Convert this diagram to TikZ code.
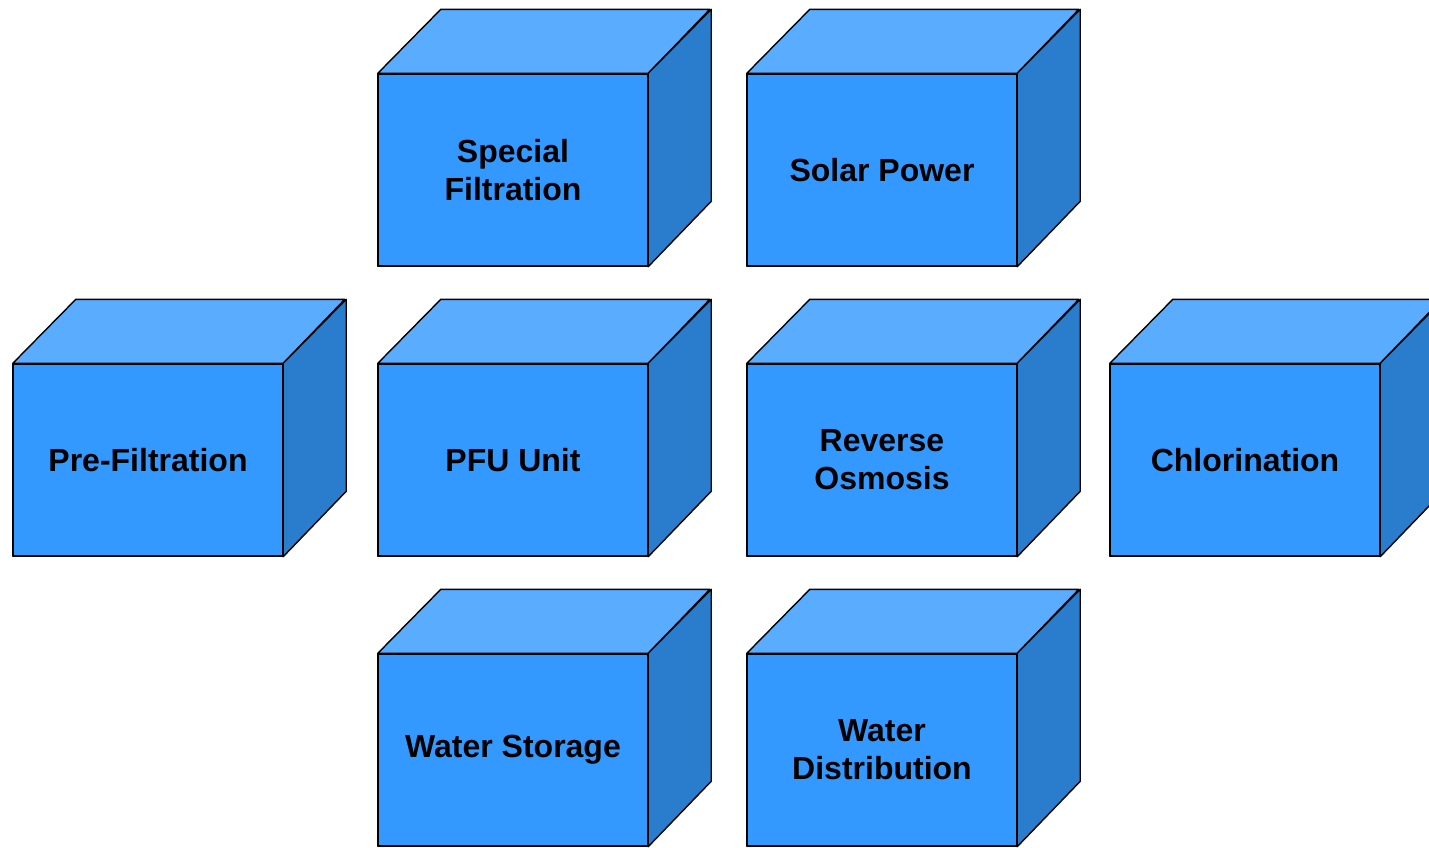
\documentclass[tikz,border=0pt]{standalone}
\usepackage{fontspec}
\setmainfont{Liberation Sans}
\definecolor{facefront}{HTML}{3399FF}
\definecolor{facetop}{HTML}{5AACFF}
\definecolor{faceside}{HTML}{2A7CCC}
\begin{document}
\begin{tikzpicture}[x=1pt,y=-1pt,
  edge/.style={draw=black,line width=1.4pt,line join=round},
  front/.style={edge,fill=facefront,rectangle,minimum width=269pt,minimum height=192pt,
    inner sep=0pt,align=center,font=\bfseries\fontsize{32}{38}\selectfont},
  topface/.style={edge,fill=facetop},
  sideface/.style={edge,fill=faceside}]
\useasboundingbox (0,0) rectangle (1429,847);
% one cube: front face as a node, top and right faces drawn from its corners
\newcommand{\blockcube}[4]{%
  \node[front] (#1) at (#2,#3) {#4};
  \draw[topface] (#1.north west) -- ++(63,-64) -- ++(269,0) -- (#1.north east) -- cycle;
  \draw[sideface] (#1.north east) -- ++(63,-64) -- ++(0,192) -- (#1.south east) -- cycle;
  \draw[edge] (#1.north west) rectangle (#1.south east);
}
\blockcube{special}{513}{170}{Special\\Filtration}
\blockcube{solar}{882}{170}{Solar Power}
\blockcube{prefilt}{148}{460}{Pre-Filtration}
\blockcube{pfu}{513}{460}{PFU Unit}
\blockcube{ro}{882}{460}{Reverse\\Osmosis}
\blockcube{chlor}{1245}{460}{Chlorination}
\blockcube{storage}{513}{750}{Water Storage}
\blockcube{distrib}{882}{750}{Water\\Distribution}
\end{tikzpicture}
\end{document}
